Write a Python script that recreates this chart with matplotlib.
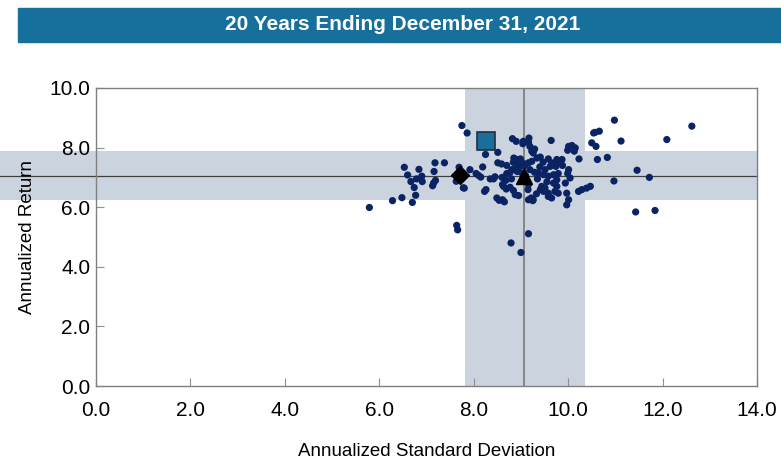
import matplotlib
matplotlib.use("Agg")
from matplotlib import pyplot as plt
from matplotlib.patches import Rectangle

plt.rcParams['font.family'] = ['Liberation Sans Narrow', 'Liberation Sans', 'DejaVu Sans']

title = "20 Years Ending December 31, 2021"

# universe of managers (annualized std dev, annualized return)
std_dev = [
    5.79, 6.28, 6.48, 6.70, 6.77, 6.74, 6.67, 6.60, 6.53, 6.79, 6.84, 6.90, 6.91,
    7.16, 7.18, 7.38, 7.19, 7.15, 7.13, 7.69, 7.63, 7.78, 7.75, 7.86, 7.92, 7.64, 7.66,
    8.25, 8.51, 8.19, 8.05, 8.10, 8.15, 7.80, 8.26, 8.23, 8.42, 8.45, 8.51, 8.59, 8.70,
    8.49, 8.54, 8.61, 8.65, 8.63, 8.69, 8.61, 8.77, 8.84, 8.88, 8.95, 8.82, 8.90, 9.05,
    9.04, 8.84, 8.91, 8.95, 8.98, 8.88, 8.81, 8.77, 8.92, 9.02, 9.15, 9.16, 9.17, 9.16,
    9.19, 9.23, 9.26, 9.29, 9.64, 10.01, 10.08, 10.15, 9.99, 10.13, 10.23, 10.54, 10.50,
    9.16, 9.23, 9.34, 9.41, 9.47, 9.58, 9.65, 9.76, 9.79, 9.74, 9.62, 9.87, 9.19, 9.29,
    9.37, 9.48, 9.51, 9.58, 9.69, 9.79, 9.76, 10.01, 9.99, 10.04, 9.94, 9.44, 9.41, 9.48,
    9.51, 9.58, 9.69, 9.76, 9.72, 9.79, 9.58, 9.65, 9.22, 9.26, 9.25, 9.97, 10.01, 9.97,
    10.22, 10.29, 10.39, 10.47, 9.12, 9.16, 10.98, 10.57, 10.66, 10.59, 11.12, 12.09,
    12.62, 10.62, 10.83, 11.46, 11.72, 10.97, 11.43, 11.84, 9.16, 8.79, 9.00, 9.04,
    8.60, 8.68, 9.35, 9.40, 8.35, 8.85, 8.99, 9.08, 8.70, 8.80, 9.10, 9.55, 9.88, 9.33,
]
ann_return = [
    5.99, 6.22, 6.32, 6.16, 6.40, 6.66, 6.86, 7.08, 7.34, 6.95, 7.27, 7.04, 6.86,
    7.20, 7.49, 7.49, 6.90, 6.81, 6.72, 7.34, 6.87, 6.65, 8.74, 8.49, 7.26, 5.39, 5.24,
    7.77, 7.84, 7.35, 7.13, 7.07, 7.01, 6.64, 6.59, 6.53, 6.95, 7.02, 7.49, 7.45, 7.13,
    6.31, 6.23, 6.25, 6.18, 6.70, 6.61, 6.76, 6.67, 6.56, 6.42, 6.39, 8.30, 8.21, 8.21,
    8.13, 7.51, 7.60, 7.49, 7.37, 7.32, 7.26, 7.17, 7.20, 7.15, 6.59, 6.25, 8.32, 8.18,
    8.04, 7.88, 7.82, 7.95, 8.24, 8.04, 8.07, 7.99, 7.91, 7.88, 7.62, 8.49, 8.16,
    7.49, 7.54, 7.65, 7.68, 7.51, 7.62, 7.49, 7.60, 7.49, 7.37, 7.37, 7.60, 7.26, 7.17,
    7.15, 7.09, 7.26, 7.04, 7.09, 7.13, 6.92, 7.26, 7.13, 6.98, 6.81, 6.70, 6.59, 6.53,
    6.64, 6.47, 6.81, 6.70, 6.53, 6.47, 6.36, 6.31, 6.31, 6.25, 6.22, 6.47, 6.25, 6.08,
    6.53, 6.59, 6.64, 6.70, 6.87, 6.76, 8.92, 8.51, 8.55, 8.04, 8.22, 8.27,
    8.72, 7.60, 7.67, 7.24, 7.00, 6.88, 5.84, 5.89, 5.11, 4.80, 4.48, 7.48,
    7.00, 6.90, 6.95, 7.35, 6.95, 7.65, 7.62, 7.40, 7.40, 6.95, 7.05, 6.85, 7.40, 6.45,
]

# highlighted points
fund_x, fund_y = 8.26, 8.21          # square
bench1_x, bench1_y = 7.70, 7.07      # diamond
bench2_x, bench2_y = 9.07, 7.04      # triangle

# median and inter-quartile bands
med_x, q_lo_x, q_hi_x = 9.07, 7.82, 10.35
med_y, q_lo_y, q_hi_y = 7.04, 6.23, 7.88

x_ticks = [0, 2, 4, 6, 8, 10, 12, 14]
y_ticks = [0, 2, 4, 6, 8, 10]

fig = plt.figure(figsize=(7.81, 4.66), dpi=100)

# title banner
fig.patches.append(Rectangle((18 / 781, 1 - 42 / 466), 1 - 18 / 781, 34 / 466,
                             transform=fig.transFigure, color='#176f9c', zorder=0))
fig.text(0.515, 1 - 24 / 466, title, ha='center', va='center', color='white',
         fontsize=15, fontweight='bold')

ax = fig.add_axes([96 / 781, 80 / 466, 661 / 781, 298 / 466])
band = '#cbd3df'
ax.axhspan(q_lo_y, q_hi_y, xmin=-96 / 661, xmax=1, color=band, lw=0, zorder=0, clip_on=False)
ax.axvspan(q_lo_x, q_hi_x, color=band, lw=0, zorder=0)
ax.axhline(med_y, xmin=-96 / 661, xmax=1, color='#404040', lw=0.9, zorder=1, clip_on=False)
ax.axvline(med_x, color='#707070', lw=1.1, zorder=1)

ax.scatter(std_dev, ann_return, s=27, color='#0a2463', edgecolors='none', zorder=3)
ax.plot(fund_x, fund_y, marker='s', ms=13.5, mfc='#1a6e9a', mec='#203040', mew=1.2, ls='none', zorder=5)
ax.plot(bench1_x, bench1_y, marker='D', ms=9.5, color='black', ls='none', zorder=5)
ax.plot(bench2_x, bench2_y, marker='^', ms=12, color='black', ls='none', zorder=5)

ax.set_xlim(0, 14)
ax.set_ylim(0, 10)
ax.set_xticks(x_ticks)
ax.set_yticks(y_ticks)
ax.set_xticklabels([f"{v:.1f}" for v in x_ticks])
ax.set_yticklabels([f"{v:.1f}" for v in y_ticks])
ax.tick_params(direction='in', length=6, color='#909090', labelsize=15)
ax.tick_params(axis='y', pad=4)
ax.tick_params(axis='x', pad=11)
for s in ax.spines.values():
    s.set_color('#808080')
    s.set_linewidth(1.0)

ax.set_xlabel("Annualized Standard Deviation", fontsize=13.5, labelpad=16)
ax.set_ylabel("Annualized Return", fontsize=13.5, labelpad=10)

fig.savefig("out.png", dpi=100)
